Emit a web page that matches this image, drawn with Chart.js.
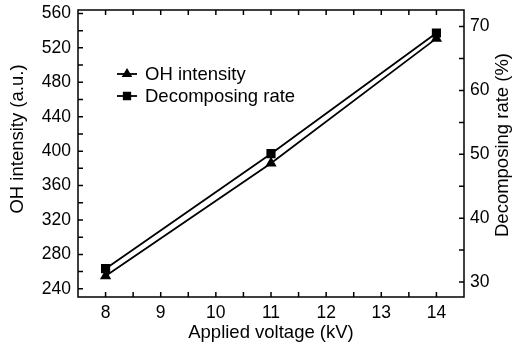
<!DOCTYPE html>
<html><head><meta charset="utf-8">
<script src="https://cdn.jsdelivr.net/npm/chart.js@4"></script>
<style>html,body{margin:0;padding:0;background:#fff}canvas{display:block}</style>
</head><body>
<canvas id="c" width="512" height="349"></canvas>
<script>
const voltages = [8, 11, 14];
const ohIntensity = [255, 386, 531];
const decomposingRate = [32.1, 50.1, 69.0];
const xTicks = [8, 9, 10, 11, 12, 13, 14];
const yTicks = [240, 280, 320, 360, 400, 440, 480, 520, 560];
const y1Ticks = [30, 40, 50, 60, 70];
const seriesNames = ['OH intensity', 'Decomposing rate'];
const xTitle = 'Applied voltage (kV)';
const yTitle = 'OH intensity (a.u.)';
const y1Title = 'Decomposing rate (%)';

const FONT = 'Liberation Sans, Arial, sans-serif';

function noPad(s) { s.paddingTop = 0; s.paddingBottom = 0; s.paddingLeft = 0; s.paddingRight = 0; }

const framePlugin = {
  id: 'frame',
  afterDatasetsDraw(chart) {
    const ctx = chart.ctx, a = chart.chartArea;
    const sx = chart.scales.x, sy = chart.scales.y, sy1 = chart.scales.y1;
    ctx.save();
    ctx.strokeStyle = '#000';
    ctx.lineWidth = 1.5;
    ctx.strokeRect(a.left, a.top, a.right - a.left, a.bottom - a.top);
    ctx.beginPath();
    for (let v = 7.5; v <= 14.5001; v += 0.5) {
      const px = sx.getPixelForValue(v);
      if (px <= a.left + 1 || px >= a.right - 1) continue;
      ctx.moveTo(px, a.bottom); ctx.lineTo(px, a.bottom - 5);
      ctx.moveTo(px, a.top); ctx.lineTo(px, a.top + 5);
    }
    for (let v = 240; v <= 560; v += 20) {
      const py = sy.getPixelForValue(v);
      ctx.moveTo(a.left, py); ctx.lineTo(a.left + 5, py);
    }
    for (let v = 30; v <= 70; v += 5) {
      const py = sy1.getPixelForValue(v);
      ctx.moveTo(a.right, py); ctx.lineTo(a.right - 5, py);
    }
    ctx.stroke();

    ctx.fillStyle = '#000';
    ctx.font = '18.5px ' + FONT;
    ctx.textAlign = 'center';
    ctx.textBaseline = 'middle';
    ctx.save(); ctx.translate(18, 139); ctx.rotate(-Math.PI / 2); ctx.fillText(yTitle, 0, 0); ctx.restore();
    ctx.save(); ctx.translate(503, 145); ctx.rotate(-Math.PI / 2); ctx.fillText(y1Title, 0, 0); ctx.restore();

    const rowsY = [74, 96];
    chart.data.datasets.forEach((ds, i) => {
      const y = rowsY[i];
      ctx.beginPath();
      ctx.lineWidth = 1.8;
      ctx.moveTo(117, y); ctx.lineTo(137, y); ctx.stroke();
      Chart.helpers.drawPoint(ctx, {pointStyle: ds.pointStyle, radius: ds.pointStyle === 'rect' ? 4.6 : 4.3, rotation: 0, borderWidth: 1}, 127, y);
      ctx.fill();
      ctx.textAlign = 'left';
      ctx.fillText(ds.label, 145, y + 1);
    });
    ctx.restore();
  }
};

new Chart(document.getElementById('c'), {
  type: 'line',
  data: {
    datasets: [
      {
        label: seriesNames[0],
        data: voltages.map((x, i) => ({x, y: ohIntensity[i]})),
        yAxisID: 'y',
        borderColor: '#000', backgroundColor: '#000', borderWidth: 1.8,
        pointStyle: 'triangle', pointRadius: 4.7, pointBackgroundColor: '#000', pointBorderColor: '#000'
      },
      {
        label: seriesNames[1],
        data: voltages.map((x, i) => ({x, y: decomposingRate[i]})),
        yAxisID: 'y1',
        borderColor: '#000', backgroundColor: '#000', borderWidth: 1.8,
        pointStyle: 'rect', pointRadius: 5.2, pointBackgroundColor: '#000', pointBorderColor: '#000'
      }
    ]
  },
  options: {
    responsive: false,
    animation: false,
    devicePixelRatio: 1,
    layout: {padding: {top: 10, left: 0, right: 0, bottom: 0}},
    plugins: {legend: {display: false}, tooltip: {enabled: false}},
    scales: {
      x: {
        type: 'linear', min: 7.5, max: 14.5,
        afterBuildTicks(s) { s.ticks = xTicks.map(v => ({value: v})); },
        afterFit(s) { s.height = 52; noPad(s); },
        grid: {display: false, drawTicks: false},
        border: {display: false},
        ticks: {color: '#000', font: {family: FONT, size: 17.5}, padding: 6},
        title: {display: true, text: xTitle, color: '#000', font: {family: FONT, size: 18.5, lineHeight: 1}, padding: {top: 0, bottom: 7}}
      },
      y: {
        type: 'linear', position: 'left', min: 230.5, max: 564,
        afterBuildTicks(s) { s.ticks = yTicks.map(v => ({value: v})); },
        afterFit(s) { s.width = 78; noPad(s); },
        grid: {display: false, drawTicks: false},
        border: {display: false},
        ticks: {color: '#000', font: {family: FONT, size: 17.5}, padding: 7}
      },
      y1: {
        type: 'linear', position: 'right', min: 27.66, max: 72.6,
        afterBuildTicks(s) { s.ticks = y1Ticks.map(v => ({value: v})); },
        afterFit(s) { s.width = 48; noPad(s); },
        grid: {display: false, drawTicks: false},
        border: {display: false},
        ticks: {color: '#000', font: {family: FONT, size: 17.5}, padding: 6}
      }
    }
  },
  plugins: [framePlugin]
});
</script>
</body></html>
